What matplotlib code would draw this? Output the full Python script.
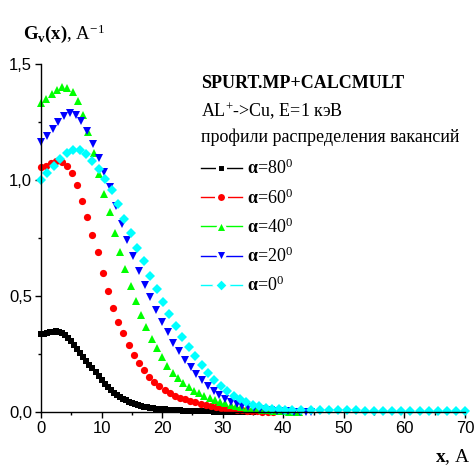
import numpy as np
import matplotlib
matplotlib.use('Agg')
import matplotlib.pyplot as plt
from matplotlib.lines import Line2D
from matplotlib.ticker import MultipleLocator, FuncFormatter

plt.rcParams['mathtext.fontset'] = 'custom'
plt.rcParams['mathtext.rm'] = 'Liberation Serif'
plt.rcParams['mathtext.it'] = 'Liberation Serif:italic'
plt.rcParams['mathtext.bf'] = 'Liberation Serif:bold'

# профили распределения вакансий, G_v(x) для разных углов падения
y80 = [0.335, 0.337, 0.340, 0.343, 0.346, 0.347, 0.346, 0.341, 0.332, 0.320,
       0.305, 0.288, 0.270, 0.253, 0.236, 0.219, 0.203, 0.188, 0.172, 0.155,
       0.138, 0.122, 0.107, 0.094, 0.083, 0.074, 0.066, 0.058, 0.051, 0.044,
       0.038, 0.033, 0.029, 0.026, 0.023, 0.020, 0.018, 0.016, 0.014, 0.013,
       0.012, 0.011, 0.010, 0.009, 0.008, 0.007, 0.007, 0.006, 0.006, 0.005,
       0.005, 0.004, 0.004, 0.004, 0.003, 0.003, 0.003, 0.002, 0.002, 0.002,
       0.002, 0.001, 0.001, 0.001, 0.001, 0.001, 0.001, 0.0, 0.0, 0.0, 0.0]
step80 = 0.5

y60 = [1.055, 1.062, 1.072, 1.080, 1.078, 1.062, 1.030, 0.980, 0.910, 0.840,
       0.765, 0.690, 0.600, 0.520, 0.450, 0.390, 0.340, 0.290, 0.245, 0.210,
       0.180, 0.152, 0.130, 0.110, 0.095, 0.082, 0.071, 0.062, 0.054, 0.047,
       0.041, 0.035, 0.030, 0.025, 0.021, 0.017, 0.014, 0.011, 0.009, 0.007,
       0.005, 0.004, 0.003, 0.002, 0.002, 0.001]
step60 = 0.85

y40 = [1.330, 1.350, 1.370, 1.388, 1.400, 1.397, 1.378, 1.340, 1.280, 1.205,
       1.115, 1.025, 0.940, 0.860, 0.770, 0.690, 0.615, 0.545, 0.480, 0.420,
       0.365, 0.315, 0.275, 0.235, 0.200, 0.170, 0.145, 0.125, 0.107, 0.092,
       0.080, 0.069, 0.060, 0.052, 0.044, 0.037, 0.031, 0.026, 0.021, 0.017,
       0.014, 0.011, 0.009, 0.007, 0.005, 0.004, 0.003, 0.002, 0.002, 0.001]
step40 = 0.87

y20 = [1.165, 1.190, 1.220, 1.252, 1.277, 1.288, 1.282, 1.255, 1.210, 1.155,
       1.095, 1.035, 0.970, 0.890, 0.810, 0.740, 0.672, 0.607, 0.548, 0.495,
       0.440, 0.390, 0.343, 0.298, 0.262, 0.225, 0.193, 0.165, 0.138, 0.113,
       0.092, 0.073, 0.056, 0.043, 0.034, 0.027, 0.021, 0.016, 0.012, 0.009,
       0.007, 0.005, 0.004, 0.003, 0.002, 0.002, 0.001, 0.001]
step20 = 0.95

y0 = [1.000, 1.030, 1.062, 1.090, 1.115, 1.130, 1.130, 1.112, 1.084, 1.047,
      1.004, 0.955, 0.896, 0.832, 0.772, 0.708, 0.650, 0.588, 0.532, 0.476,
      0.422, 0.370, 0.322, 0.280, 0.240, 0.204, 0.170, 0.140, 0.113, 0.090,
      0.070, 0.055, 0.042, 0.032, 0.024, 0.018, 0.014, 0.011, 0.009]
step0 = 1.06
y0_tail = [0.008, 0.008, 0.008, 0.007, 0.007, 0.007, 0.007, 0.007, 0.006, 0.006,
           0.006, 0.006, 0.006, 0.006, 0.006, 0.006, 0.006, 0.006, 0.006, 0.006]
tail_start, tail_step = 41.5, 1.5

x80 = np.arange(len(y80)) * step80
x60 = np.arange(len(y60)) * step60
x40 = np.arange(len(y40)) * step40
x20 = np.arange(len(y20)) * step20
x0 = np.concatenate([np.arange(len(y0)) * step0,
                     tail_start + np.arange(len(y0_tail)) * tail_step])
y0_all = y0 + y0_tail

labels = [r'$\mathbf{\alpha}$=80$^0$', r'$\mathbf{\alpha}$=60$^0$',
          r'$\mathbf{\alpha}$=40$^0$', r'$\mathbf{\alpha}$=20$^0$',
          r'$\mathbf{\alpha}$=0$^0$']

series = [
    (x80, y80, 'black', 's', 4.2),
    (x60, y60, '#ff0000', 'o', 5.2),
    (x40, y40, '#00ff00', '^', 6.0),
    (x20, y20, '#0000ff', 'v', 6.0),
    (x0, y0_all, '#00ffff', 'D', 5.2),
]

fig = plt.figure(figsize=(4.75, 4.66), dpi=100)
ax = fig.add_axes([41 / 475, 54 / 466, 424 / 475, 348 / 466])

handles = []
for (x, y, c, m, ms), lab in zip(series, labels):
    ax.plot(x, y, linestyle='none', marker=m, markersize=ms, color=c,
            markeredgewidth=0, clip_on=False)
    handles.append(Line2D([], [], color=c, lw=1.0, marker=m, markersize=ms + 2,
                          markerfacecolor=c, markeredgecolor='white',
                          markeredgewidth=2.2, label=lab))

ax.set_xlim(0, 70)
ax.set_ylim(0, 1.5)
ax.spines['top'].set_visible(False)
ax.spines['right'].set_visible(False)
for s in ('left', 'bottom'):
    ax.spines[s].set_linewidth(1.0)

ax.xaxis.set_major_locator(MultipleLocator(10))
ax.xaxis.set_minor_locator(MultipleLocator(5))
ax.yaxis.set_major_locator(MultipleLocator(0.5))
ax.yaxis.set_minor_locator(MultipleLocator(0.25))
ax.yaxis.set_major_formatter(FuncFormatter(lambda v, p: f'{v:.1f}'.replace('.', ',')))
ax.tick_params(which='major', direction='out', length=4.5, width=1.0,
               labelsize=12, pad=2)
ax.tick_params(which='minor', direction='out', length=2.5, width=1.0)
for t in ax.get_xticklabels() + ax.get_yticklabels():
    t.set_fontfamily('Liberation Sans')

fig.text(23 / 475, 1 - 39 / 466, r'$\mathbf{G_v(x)}$, A$^{-1}$',
         fontsize=13.5, family='Liberation Serif', ha='left', va='baseline')
fig.text(470 / 475, 1 - 462 / 466, r'$\mathbf{x}$, A',
         fontsize=14, family='Liberation Serif', ha='right', va='baseline')

fig.text(201 / 475, 1 - 88 / 466, 'SPURT.MP+CALCMULT', fontsize=13,
         family='Liberation Serif', weight='bold', ha='left', va='baseline')
fig.text(201 / 475, 1 - 117 / 466, 'AL$^{+}$->Cu, E=1 кэВ', fontsize=13,
         family='Liberation Serif', ha='left', va='baseline')
fig.text(201 / 475, 1 - 142 / 466, 'профили распределения вакансий',
         fontsize=13, family='Liberation Serif', ha='left', va='baseline')

leg = ax.legend(handles=handles, loc='upper left',
                bbox_to_anchor=(201 / 475, 1 - 159 / 466),
                bbox_transform=fig.transFigure, frameon=False,
                prop={'family': 'Liberation Serif', 'size': 13},
                handlelength=2.25, handletextpad=0.3, labelspacing=0.54,
                borderpad=0, borderaxespad=0)

fig.savefig('out.png', dpi=100)
